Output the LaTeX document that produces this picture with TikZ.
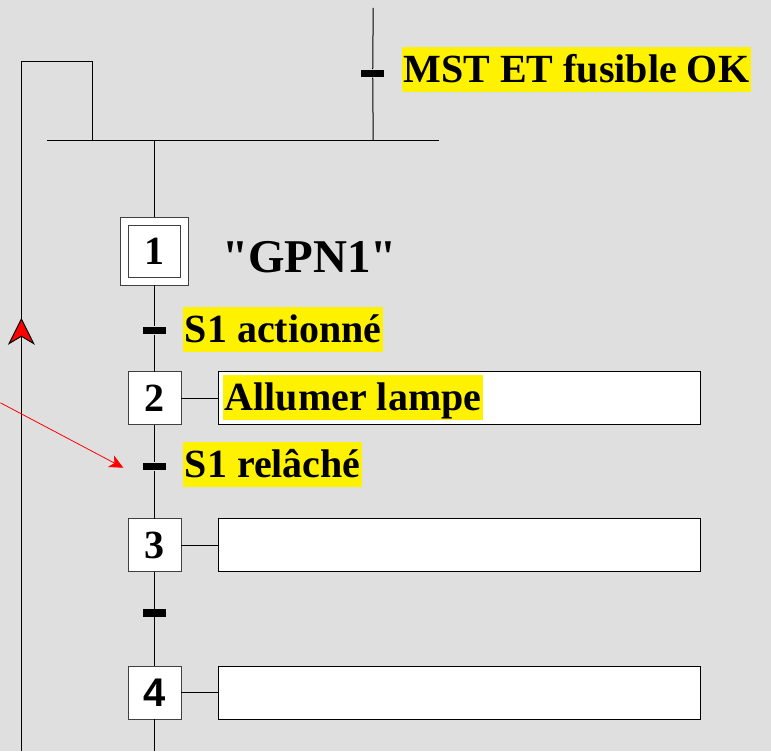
\documentclass[tikz,border=0pt]{standalone}
\usepackage{fontspec}
\setmainfont{Liberation Serif}
\newfontfamily\serifbrut{Liberation Serif}
\newfontfamily\arial{Liberation Sans}
\usetikzlibrary{arrows.meta}
\definecolor{fond}{RGB}{223,223,223}

\begin{document}
\begin{tikzpicture}[x=1pt,y=-1pt,line width=1pt,font=\bfseries\fontsize{40}{48}\selectfont]
		\tikzstyle{etape}=[draw=black!75,fill=white,shape=rectangle,minimum size=53pt,inner sep=0pt,outer sep=0pt]
		\tikzstyle{initiale}=[etape,minimum size=60pt,double=white,double distance=7pt,outer sep=4pt]
		\tikzstyle{trans}=[fill=black,shape=rectangle,minimum width=23pt,minimum height=7.5pt,inner sep=0pt]
		\tikzstyle{action}=[draw=black,fill=white,shape=rectangle,minimum width=482pt,minimum height=53pt,inner sep=0pt,anchor=west]
		\tikzstyle{recep}=[fill=yellow,anchor=base west,text height=35pt,text depth=8pt,inner xsep=1.5pt,inner ysep=1pt,outer sep=0pt]
		
		\fill[fond] (0,0) rectangle (771,751);
		
		\coordinate (jg) at (47,141);
		\coordinate (jd) at (439,141);
		\coordinate (j1) at (154.5,141);
		\coordinate (h0) at (373,8);
		\coordinate (j0) at (373,141);
		\coordinate (bas) at (154.5,751);
		
		\coordinate (r0) at (21,751);
		\coordinate (r1) at (21,62);
		\coordinate (r2) at (92,62);
		\coordinate (r3) at (92,141);
		\coordinate (fl1) at (21,346);
		\coordinate (fl2) at (21,318);
		
		\coordinate (p0) at (0,403);
		\coordinate (p1) at (123,468);
		
		\node[trans](t0) at (372.5,73.5){};
		\node[recep](c0) at (402,83){MST ET fusible OK};
		
		\node[initiale](e1) at (154.5,251.5){1};
		\node[anchor=base west,font=\serifbrut\bfseries\fontsize{47}{56}\selectfont](nom) at (218,273){"GPN1"};
		
		\node[trans](t1) at (154.5,330.5){};
		\node[recep](c1) at (183,343){S1 actionné};
		
		\node[etape](e2) at (154.5,398.5){2};
		\node[action](a2) at (218,398.5){};
		\node[recep](l2) at (223,411){Allumer lampe};
		
		\node[trans](t2) at (154.5,466.5){};
		\node[recep](c2) at (183,478){S1 relâché};
		
		\node[etape](e3) at (154.5,545.5){3};
		\node[action](a3) at (218,545.5){};
		
		\node[trans](t3) at (154.5,613.5){};
		
		\node[etape,font=\arial\bfseries\fontsize{40}{48}\selectfont](e4) at (154.5,693){4};
		\node[action](a4) at (218,693){};
		
		\draw (jg) -- (jd);
		\draw (h0) -- (t0) -- (j0);
		\draw (j1) -- (e1) -- (t1) -- (e2) -- (t2) -- (e3) -- (t3) -- (e4) -- (bas);
		
		\draw (e2) -- (a2);
		\draw (e3) -- (a3);
		\draw (e4) -- (a4);
		
		\draw (r0) -- (r1) -- (r2) -- (r3);
		\draw[-{Stealth[length=27pt,width=27pt,inset=8pt,fill=red]}] (fl1) -- (fl2);
		
		\draw[red,line width=0.8pt,-{Stealth[length=14pt,width=13pt,inset=4pt]}] (p0) -- (p1);
\end{tikzpicture}
\end{document}
